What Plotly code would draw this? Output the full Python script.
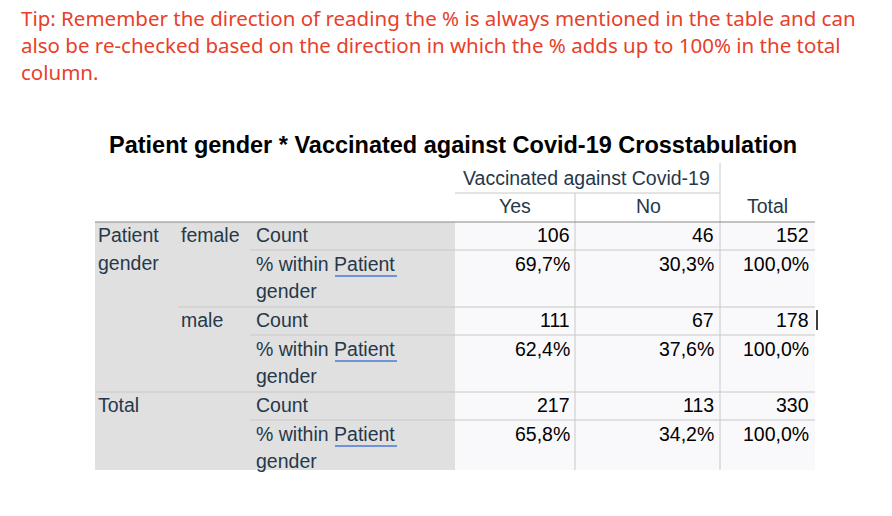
import plotly.graph_objects as go

tip_lines = [
    "Tip: Remember the direction of reading the % is always mentioned in the table and can",
    "also be re-checked based on the direction in which the % adds up to 100% in the total",
    "column.",
]
title = "Patient gender * Vaccinated against Covid-19 Crosstabulation"
col_group = "Vaccinated against Covid-19"
columns = ["Yes", "No", "Total"]
groups = ["female", "male"]
counts = [[106, 46, 152], [111, 67, 178], [217, 113, 330]]
percents = ["69,7%", "30,3%", "100,0%", "62,4%", "37,6%", "100,0%", "65,8%", "34,2%", "100,0%"]

W, H = 892, 516
FONT = "Liberation Sans, Arial"
LBL = "#26384a"
GRID = "#c8c8c8"
CELL = 19.5

fig = go.Figure()
shapes, ann = [], []

def text(x, y, s, size=CELL, color=LBL, anchor="left", font=FONT):
    ann.append(dict(x=x, y=y, text=s, showarrow=False, xanchor=anchor, yanchor="middle",
                    xshift=-1 if anchor == "left" else 0,
                    font=dict(family=font, size=size, color=color)))

def line(x0, y0, x1, y1, color=GRID, w=1):
    shapes.append(dict(type="line", x0=x0, y0=y0, x1=x1, y1=y1, line=dict(color=color, width=w)))

for i, t in enumerate(tip_lines):
    text(20, 18 + i * 27, t, size=20.5, color="#e8402a", font="Noto Sans, Open Sans")

ann.append(dict(x=453, y=145, text="<b>" + title + "</b>", showarrow=False, xanchor="center",
                yanchor="middle", font=dict(family=FONT, size=23.5, color="black")))

# table backgrounds
top, bottom = 222, 470
shapes.append(dict(type="rect", x0=95, y0=top, x1=455, y1=bottom, fillcolor="#e0e0e0", line_width=0, layer="below"))
shapes.append(dict(type="rect", x0=455, y0=top, x1=815, y1=bottom, fillcolor="#f9f9fb", line_width=0, layer="below"))

text(586, 178, col_group, anchor="center")
col_right = [572, 716, 811]
col_center = [515, 648, 767]
for c, name in zip(col_center, columns):
    text(c, 206, name, anchor="center")
line(720, 163, 720, bottom)
line(575, 193, 575, bottom)
line(455, 193, 720, 193)
line(95, top, 815, top, color="#888888")

row_tops = [222, 307, 392]
for r, rt in enumerate(row_tops):
    if r > 0:
        line(95 if r == 2 else 178, rt, 815, rt)
    line(250, rt + 28, 815, rt + 28)
    text(255, rt + 13, "Count")
    text(255, rt + 42, "% within Patient")
    text(255, rt + 69, "gender")
    line(335, rt + 54, 397, rt + 54, color="#4a78d6", w=1.5)
    for k in range(3):
        text(col_right[k], rt + 13, str(counts[r][k]), color="black", anchor="right")
        text(col_right[k], rt + 42, percents[r * 3 + k], color="black", anchor="right")
    if r < 2:
        text(180, rt + 13, groups[r])

text(97, 235, "Patient")
text(97, 263, "gender")
text(97, 405, "Total")
line(817, 310, 817, 330, color="black", w=1.5)

fig.update_layout(
    width=W, height=H, margin=dict(l=0, r=0, t=0, b=0),
    paper_bgcolor="white", plot_bgcolor="white",
    xaxis=dict(range=[0, W], visible=False, fixedrange=True),
    yaxis=dict(range=[H, 0], visible=False, fixedrange=True),
    shapes=shapes, annotations=ann, showlegend=False,
)
fig.write_html("out.html", config={"displayModeBar": False},
               post_script="document.body.style.margin='0';")
